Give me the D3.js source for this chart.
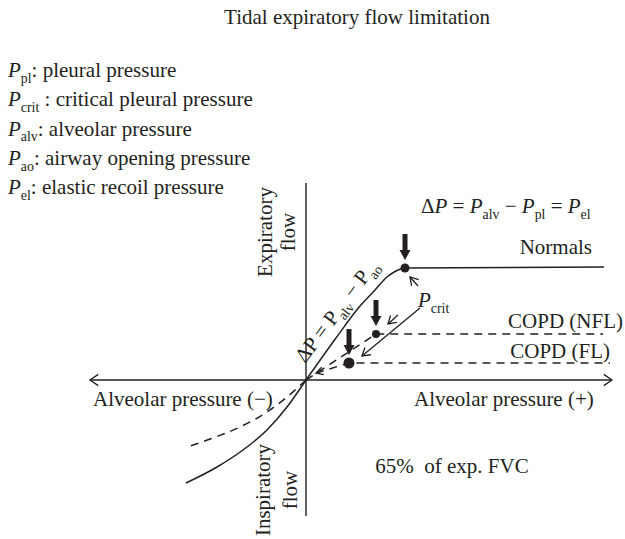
<!DOCTYPE html>
<html>
<head>
<meta charset="utf-8">
<script src="https://cdn.jsdelivr.net/npm/d3@7/dist/d3.min.js"></script>
<style>
  html, body { margin: 0; padding: 0; background: #fff; }
  svg text { font-family: "Liberation Serif", "Times New Roman", serif; fill: #231f20; white-space: pre; }
</style>
</head>
<body>
<svg id="chart" width="625" height="539"></svg>
<script>
// pressure (x) / flow (y) in arbitrary units, origin = zero pressure, zero flow
const normalsExp = [[0, 0], [3.0, 4.2], [5.4, 7.4], [6.9, 9.0], [8.1, 10.3], [9.0, 10.9], [9.9, 11.2], [29.8, 11.3]];
const normalsInsp = [[0, 0], [-1.9, -2.7], [-3.9, -5.0], [-6.3, -7.0], [-8.9, -8.7], [-12.0, -10.3]];
const copdInsp = [[0, 0], [-1.9, -1.7], [-3.9, -3.2], [-6.6, -4.7], [-9.3, -5.8], [-11.9, -6.7]];
const copdNflExp = [[0, 0], [7.0, 4.6], [29.7, 4.6]];
const copdFlExp = [[1.0, 0.7], [4.3, 1.7], [30.4, 1.7]];

// critical points (Normals, COPD NFL, COPD FL)
const critX = [9.9, 7.0, 4.3];
const critY = [11.2, 4.6, 1.7];

// thin arrows: [fromX, fromY, toX, toY]
const pointers = [[11.2, 9.4, 10.4, 10.3], [9.2, 6.5, 8.2, 5.6], [11.4, 7.2, 5.6, 2.4]];

const legendSubs = ["pl", "crit", "alv", "ao", "el"];
const legendTexts = [": pleural pressure", " : critical pleural pressure", ": alveolar pressure",
                     ": airway opening pressure", ": elastic recoil pressure"];

const xDomain = [-21.6, 30.6];
const yDomain = [-13.6, 19.7];

const svg = d3.select("#chart");
const ink = "#231f20";
const fs = 21;

const x = d3.scaleLinear().domain(xDomain).range([90, 612]);
const y = d3.scaleLinear().domain(yDomain).range([516, 183]);

// text with italic / subscript parts
function richText(g, px, py, parts, size) {
  const t = g.append("text").attr("x", px).attr("y", py).attr("font-size", size);
  let shift = 0;
  parts.forEach(([str, kind]) => {
    const ts = t.append("tspan").text(str);
    const target = kind === "sub" ? size * 0.28 : 0;
    if (target !== shift) { ts.attr("dy", target - shift); shift = target; }
    if (kind === "sub") ts.attr("font-size", size * 0.66);
    if (kind === "i") ts.attr("font-style", "italic");
  });
  return t;
}

function openHead(g, fx, fy, tx, ty, len, spread) {
  const a = Math.atan2(fy - ty, fx - tx);
  const p1 = [tx + len * Math.cos(a + spread), ty + len * Math.sin(a + spread)];
  const p2 = [tx + len * Math.cos(a - spread), ty + len * Math.sin(a - spread)];
  g.append("path")
    .attr("d", "M" + p1 + "L" + [tx, ty] + "L" + p2)
    .attr("fill", "none").attr("stroke", ink).attr("stroke-width", 1.3);
}

// title
svg.append("text").attr("x", 357).attr("y", 24).attr("text-anchor", "middle")
  .attr("font-size", fs).text("Tidal expiratory flow limitation");

// legend
legendSubs.forEach((s, i) => {
  richText(svg, 8, 77 + i * 29.3, [["P", "i"], [s, "sub"], [legendTexts[i], ""]], fs);
});

// axes
const axes = svg.append("g").attr("stroke", ink).attr("stroke-width", 1.4);
axes.append("line").attr("x1", x(xDomain[0])).attr("x2", x(xDomain[1])).attr("y1", y(0)).attr("y2", y(0));
axes.append("line").attr("x1", x(0)).attr("x2", x(0)).attr("y1", y(yDomain[1])).attr("y2", y(yDomain[0]));
openHead(svg, x(0), y(0), x(xDomain[1]), y(0), 10, 0.6);
openHead(svg, x(0), y(0), x(xDomain[0]), y(0), 10, 0.6);

// curves
const line = d3.line().x(d => x(d[0])).y(d => y(d[1]));
const smooth = d3.line().x(d => x(d[0])).y(d => y(d[1])).curve(d3.curveMonotoneX);
const curves = svg.append("g").attr("fill", "none").attr("stroke", ink).attr("stroke-width", 1.5);
curves.append("path").attr("d", smooth(normalsExp));
curves.append("path").attr("d", smooth(normalsInsp));
curves.append("path").attr("d", smooth(copdInsp)).attr("stroke-dasharray", "8,6");
curves.append("path").attr("d", line(copdNflExp)).attr("stroke-dasharray", "8,6");
curves.append("path").attr("d", line(copdFlExp)).attr("stroke-dasharray", "8,6");
openHead(svg, x(copdFlExp[1][0]), y(copdFlExp[1][1]), x(copdFlExp[0][0]), y(copdFlExp[0][1]), 8, 0.5);

// critical points and thick arrows
const dotR = [4.5, 4, 5.5];
critX.forEach((cx, i) => {
  const px = x(cx), py = y(critY[i]);
  svg.append("circle").attr("cx", px).attr("cy", py).attr("r", dotR[i]).attr("fill", ink);
  const tip = py - 8, top = tip - 26, neck = tip - 10;
  svg.append("path")
    .attr("d", `M${px - 2.5},${top}L${px + 2.5},${top}L${px + 2.5},${neck}L${px + 5.5},${neck}L${px},${tip}L${px - 5.5},${neck}L${px - 2.5},${neck}Z`)
    .attr("fill", ink);
});

// thin pointers toward the critical points
pointers.forEach(p => {
  svg.append("line").attr("x1", x(p[0])).attr("y1", y(p[1])).attr("x2", x(p[2])).attr("y2", y(p[3]))
    .attr("stroke", ink).attr("stroke-width", 1.3);
  openHead(svg, x(p[0]), y(p[1]), x(p[2]), y(p[3]), 9, 0.55);
});

// labels
richText(svg, 421, 213, [["Δ", ""], ["P", "i"], [" = ", ""], ["P", "i"], ["alv", "sub"], [" − ", ""],
  ["P", "i"], ["pl", "sub"], [" = ", ""], ["P", "i"], ["el", "sub"]], fs);
svg.append("text").attr("x", 592).attr("y", 254).attr("text-anchor", "end").attr("font-size", fs).text("Normals");
svg.append("text").attr("x", 623).attr("y", 328).attr("text-anchor", "end").attr("font-size", fs).text("COPD (NFL)");
svg.append("text").attr("x", 610).attr("y", 358).attr("text-anchor", "end").attr("font-size", fs).text("COPD (FL)");
richText(svg, 418, 307, [["P", "i"], ["crit", "sub"]], fs);
richText(svg, 0, 0, [["ΔP = P", ""], ["alv", "sub"], [" − P", ""], ["ao", "sub"]], fs)
  .attr("transform", "translate(305,364) rotate(-53)");

svg.append("text").attr("x", 93).attr("y", 406).attr("font-size", fs).text("Alveolar pressure (−)");
svg.append("text").attr("x", 414).attr("y", 406).attr("font-size", fs).text("Alveolar pressure (+)");
svg.append("text").attr("x", 452).attr("y", 473).attr("text-anchor", "middle").attr("font-size", fs).text("65%  of exp. FVC");

function vLabel(cy, lines, baseX) {
  lines.forEach((s, i) => {
    svg.append("text").attr("text-anchor", "middle").attr("font-size", fs)
      .attr("transform", `translate(${baseX[i]},${cy}) rotate(-90)`).text(s);
  });
}
vLabel(232, ["Expiratory", "flow"], [272, 295]);
vLabel(490, ["Inspiratory", "flow"], [270, 297]);
</script>
</body>
</html>
